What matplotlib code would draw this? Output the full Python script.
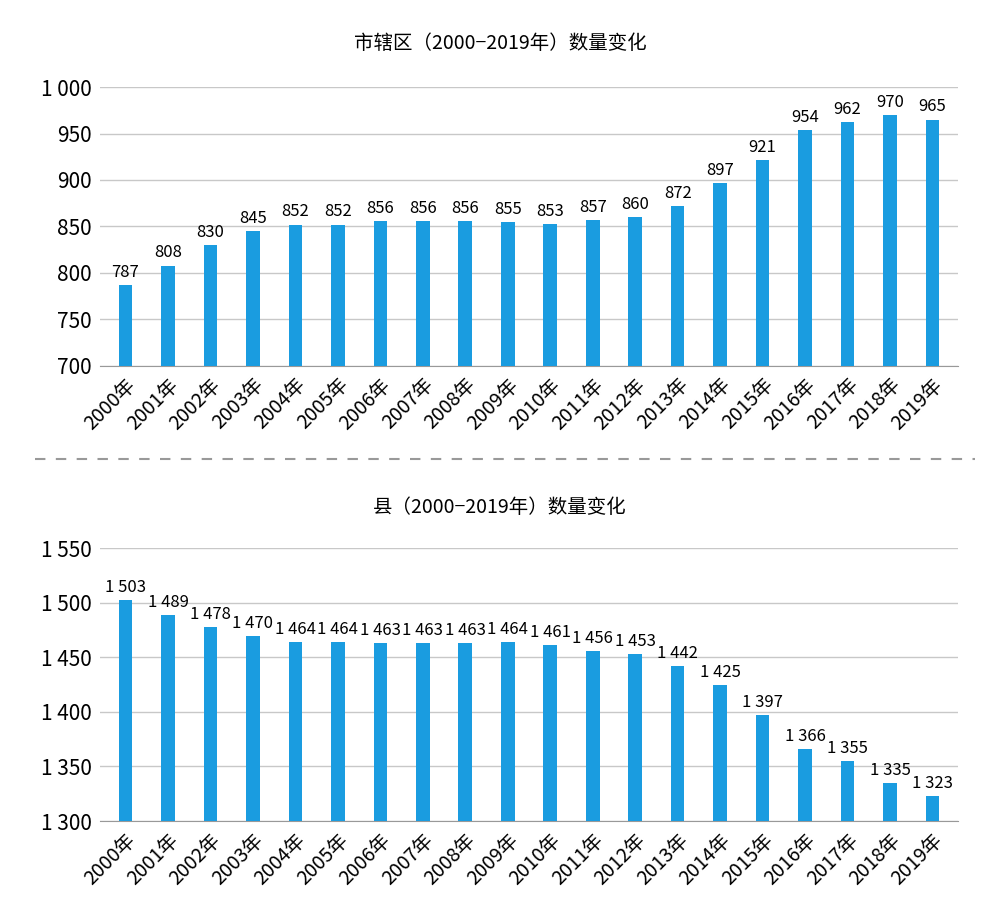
import matplotlib
matplotlib.use("Agg")
import matplotlib.pyplot as plt
from matplotlib.lines import Line2D

plt.rcParams['font.family'] = ['Noto Sans CJK SC', 'DejaVu Sans']

years = [f"{y}年" for y in range(2000, 2020)]
city = [787, 808, 830, 845, 852, 852, 856, 856, 856, 855, 853, 857, 860, 872, 897, 921, 954, 962, 970, 965]
county = [1503, 1489, 1478, 1470, 1464, 1464, 1463, 1463, 1463, 1464, 1461, 1456, 1453, 1442, 1425, 1397, 1366, 1355, 1335, 1323]

color = '#1a9ce0'

def fmt(v):
    s = str(int(v))
    return s if len(s) < 4 else s[:-3] + ' ' + s[-3:]

def draw(ax, vals, ylim, step):
    x = range(len(vals))
    ax.bar(x, vals, width=0.32, color=color, zorder=3)
    ax.set_ylim(*ylim)
    ax.set_xlim(-0.6, len(vals) - 0.4)
    ticks = list(range(ylim[0], ylim[1] + 1, step))
    ax.set_yticks(ticks)
    ax.set_yticklabels([fmt(t) for t in ticks], fontsize=15)
    ax.set_xticks(list(x))
    ax.set_xticklabels(years, rotation=45, ha='right', rotation_mode='anchor', fontsize=14)
    ax.grid(axis='y', color='#c8c8c8', lw=1, zorder=0)
    for s in ['top', 'right', 'left']:
        ax.spines[s].set_visible(False)
    ax.spines['bottom'].set_color('#999999')
    ax.tick_params(length=0, pad=6)
    off = (ylim[1] - ylim[0]) * 0.015
    for i, v in zip(x, vals):
        ax.text(i, v + off, fmt(v), ha='center', va='bottom', fontsize=12)

fig = plt.figure(figsize=(10, 8.97), dpi=100)
ax1 = fig.add_axes([0.1, 0.592, 0.858, 0.311])
ax2 = fig.add_axes([0.1, 0.0847, 0.858, 0.304])
draw(ax1, city, (700, 1000), 50)
draw(ax2, county, (1300, 1550), 50)

fig.text(0.5, 0.951, "市辖区（2000−2019年）数量变化", ha='center', va='center', fontsize=14)
fig.text(0.5, 0.434, "县（2000−2019年）数量变化", ha='center', va='center', fontsize=14)
fig.add_artist(Line2D([0.035, 0.975], [1 - 459 / 897] * 2, transform=fig.transFigure,
                      color='#999999', lw=1.5, ls=(0, (5, 5))))

fig.savefig("out.png", dpi=100)
